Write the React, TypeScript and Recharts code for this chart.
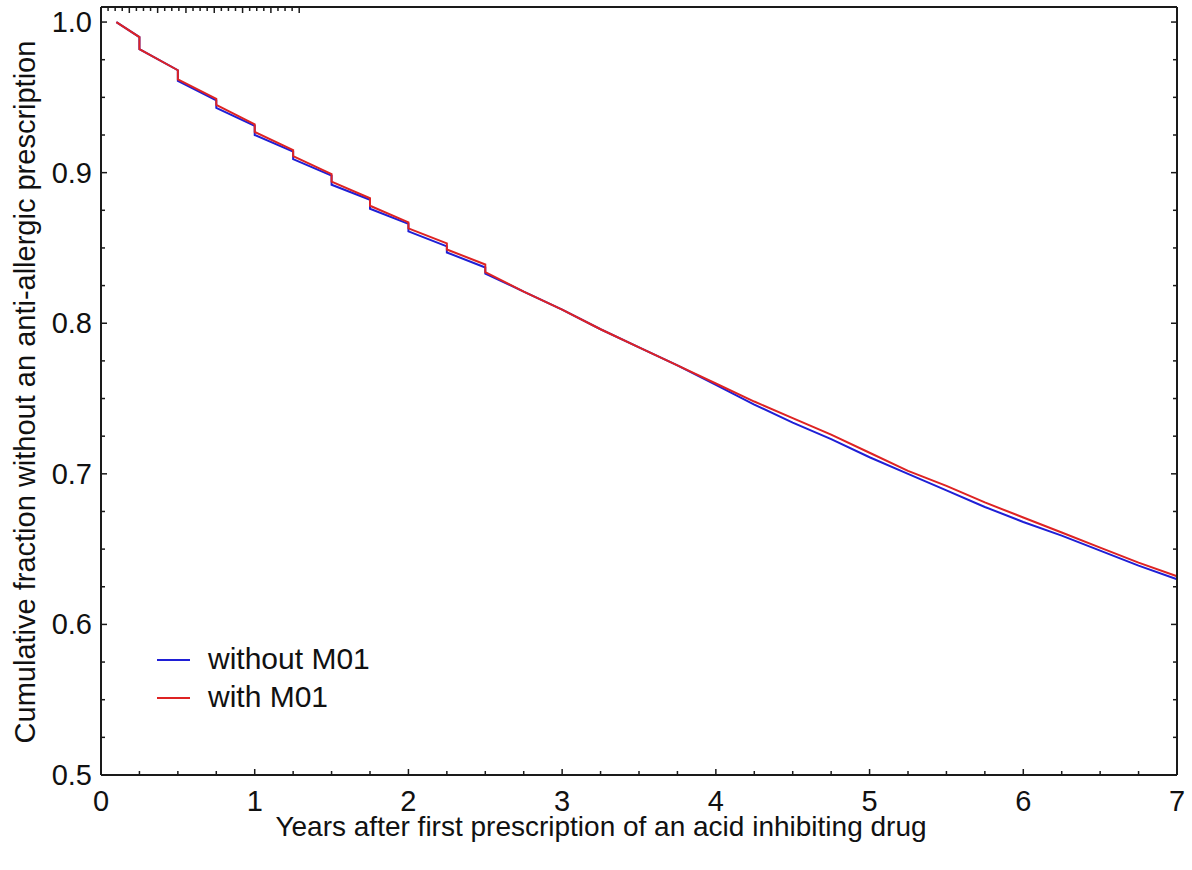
import { CartesianGrid, Legend, Line, LineChart, XAxis, YAxis } from "recharts";

// Kaplan-Meier style curves (steps are drawn as two points at the same x)
const years = [
  0.1, 0.25, 0.25, 0.5, 0.5, 0.75, 0.75, 1.0, 1.0, 1.25, 1.25, 1.5, 1.5, 1.75, 1.75,
  2.0, 2.0, 2.25, 2.25, 2.5, 2.5, 2.75, 3.0, 3.25, 3.5, 3.75, 4.0, 4.25, 4.5, 4.75,
  5.0, 5.25, 5.5, 5.75, 6.0, 6.25, 6.5, 6.75, 7.0,
];
const withoutM01 = [
  1.0, 0.99, 0.982, 0.968, 0.961, 0.948, 0.943, 0.931, 0.925, 0.914, 0.909, 0.898, 0.892,
  0.882, 0.876, 0.866, 0.861, 0.851, 0.847, 0.837, 0.833, 0.821, 0.809, 0.796, 0.784,
  0.772, 0.759, 0.746, 0.734, 0.723, 0.711, 0.7, 0.689, 0.678, 0.668, 0.659, 0.649, 0.639,
  0.63,
];
const withM01 = [
  1.0, 0.99, 0.982, 0.968, 0.962, 0.949, 0.945, 0.932, 0.927, 0.915, 0.911, 0.899, 0.894,
  0.883, 0.878, 0.867, 0.863, 0.853, 0.849, 0.839, 0.834, 0.821, 0.809, 0.796, 0.784,
  0.772, 0.76, 0.748, 0.737, 0.726, 0.714, 0.702, 0.692, 0.681, 0.671, 0.661, 0.651, 0.641,
  0.632,
];

const xTicks = [
  0, 0.25, 0.5, 0.75, 1, 1.25, 1.5, 1.75, 2, 2.25, 2.5, 2.75, 3, 3.25, 3.5, 3.75, 4, 4.25,
  4.5, 4.75, 5, 5.25, 5.5, 5.75, 6, 6.25, 6.5, 6.75, 7,
];
const xLabels = ["0", "1", "2", "3", "4", "5", "6", "7"];
const yTicks = [
  0.5, 0.525, 0.55, 0.575, 0.6, 0.625, 0.65, 0.675, 0.7, 0.725, 0.75, 0.775, 0.8, 0.825,
  0.85, 0.875, 0.9, 0.925, 0.95, 0.975, 1.0,
];
const yLabels = ["0.5", "0.6", "0.7", "0.8", "0.9", "1.0"];

const seriesNames = ["without M01", "with M01"];
const BLUE = "#1f1fd6";
const RED = "#de2323";
const FONT = "'Liberation Sans', Arial, sans-serif";
const AXIS = "#1a1a1a";

const data = years.map((year, i) => ({ year, without: withoutM01[i], with: withM01[i] }));

const isMajor = (v: number, step: number) => Math.abs(v / step - Math.round(v / step)) < 1e-6;

function BottomTick({ x, y, payload }: any) {
  const major = isMajor(payload.value, 1);
  return (
    <g>
      <line x1={x} x2={x} y1={y} y2={y - (major ? 6 : 4)} stroke={AXIS} strokeWidth={1.5} />
      {major && (
        <text x={x} y={y + 36} textAnchor="middle" fontSize={29} fontFamily={FONT} fill="#111">
          {xLabels[Math.round(payload.value)]}
        </text>
      )}
    </g>
  );
}

function TopTick({ x, y, payload }: any) {
  const major = isMajor(payload.value, 1);
  return <line x1={x} x2={x} y1={y} y2={y + (major ? 6 : 4)} stroke={AXIS} strokeWidth={1.5} />;
}

function LeftTick({ x, y, payload }: any) {
  const major = isMajor(payload.value, 0.1);
  const idx = Math.round((payload.value - 0.5) * 10);
  return (
    <g>
      <line x1={x} x2={x + (major ? 6 : 4)} y1={y} y2={y} stroke={AXIS} strokeWidth={1.5} />
      {major && (
        <text x={x - 9} y={y + 10} textAnchor="end" fontSize={29} fontFamily={FONT} fill="#111">
          {yLabels[idx]}
        </text>
      )}
    </g>
  );
}

function RightTick({ x, y, payload }: any) {
  const major = isMajor(payload.value, 0.1);
  return <line x1={x} x2={x - (major ? 6 : 4)} y1={y} y2={y} stroke={AXIS} strokeWidth={1.5} />;
}

function LegendBox() {
  const colors = [BLUE, RED];
  return (
    <div style={{ fontFamily: FONT, fontSize: 30, color: "#111", lineHeight: "38px" }}>
      {seriesNames.map((name, i) => (
        <div key={name} style={{ display: "flex", alignItems: "center" }}>
          <svg width={55} height={38}>
            <line x1={4} x2={37} y1={20} y2={20} stroke={colors[i]} strokeWidth={2} />
          </svg>
          <span>{name}</span>
        </div>
      ))}
    </div>
  );
}

export default function App() {
  return (
    <div style={{ position: "absolute", left: 0, top: 0, background: "#fff" }}>
      <LineChart
        width={1192}
        height={870}
        data={data}
        margin={{ top: 6, right: 14, bottom: 25, left: 41 }}
      >
        <CartesianGrid stroke="none" />
        <XAxis
          xAxisId="b"
          dataKey="year"
          type="number"
          domain={[0, 7]}
          ticks={xTicks}
          interval={0}
          height={70}
          tickSize={0}
          tickMargin={0}
          tickLine={false}
          tick={<BottomTick />}
          axisLine={{ stroke: AXIS, strokeWidth: 2 }}
          label={{
            content: () => (
              <text x={601} y={836} textAnchor="middle" fontSize={28} fontFamily={FONT} fill="#111">
                Years after first prescription of an acid inhibiting drug
              </text>
            ),
          }}
        />
        <XAxis
          xAxisId="t"
          orientation="top"
          type="number"
          domain={[0, 7]}
          allowDataOverflow
          ticks={xTicks}
          interval={0}
          height={1}
          tickSize={0}
          tickMargin={0}
          tickLine={false}
          tick={<TopTick />}
          axisLine={{ stroke: AXIS, strokeWidth: 2 }}
        />
        <YAxis
          yAxisId="l"
          type="number"
          domain={[0.5, 1.01]}
          allowDataOverflow
          ticks={yTicks}
          interval={0}
          width={60}
          tickSize={0}
          tickMargin={0}
          tickLine={false}
          tick={<LeftTick />}
          axisLine={{ stroke: AXIS, strokeWidth: 2 }}
          label={{
            content: () => (
              <text
                x={25}
                y={392}
                transform="rotate(-90 25 392)"
                textAnchor="middle"
                dominantBaseline="central"
                fontSize={29}
                fontFamily={FONT}
                fill="#111"
              >
                Cumulative fraction without an anti-allergic prescription
              </text>
            ),
          }}
        />
        <YAxis
          yAxisId="r"
          orientation="right"
          type="number"
          domain={[0.5, 1.01]}
          allowDataOverflow
          ticks={yTicks}
          interval={0}
          width={1}
          tickSize={0}
          tickMargin={0}
          tickLine={false}
          tick={<RightTick />}
          axisLine={{ stroke: AXIS, strokeWidth: 2 }}
        />
        <Legend
          layout="vertical"
          align="center"
          verticalAlign="middle"
          wrapperStyle={{ left: 153, top: 640, width: 280 }}
          content={() => <LegendBox />}
        />
        <Line
          xAxisId="b"
          yAxisId="l"
          type="linear"
          dataKey="without"
          name={seriesNames[0]}
          stroke={BLUE}
          strokeWidth={2}
          dot={false}
          isAnimationActive={false}
        />
        <Line
          xAxisId="b"
          yAxisId="l"
          type="linear"
          dataKey="with"
          name={seriesNames[1]}
          stroke={RED}
          strokeWidth={2}
          dot={false}
          isAnimationActive={false}
        />
      </LineChart>
    </div>
  );
}
